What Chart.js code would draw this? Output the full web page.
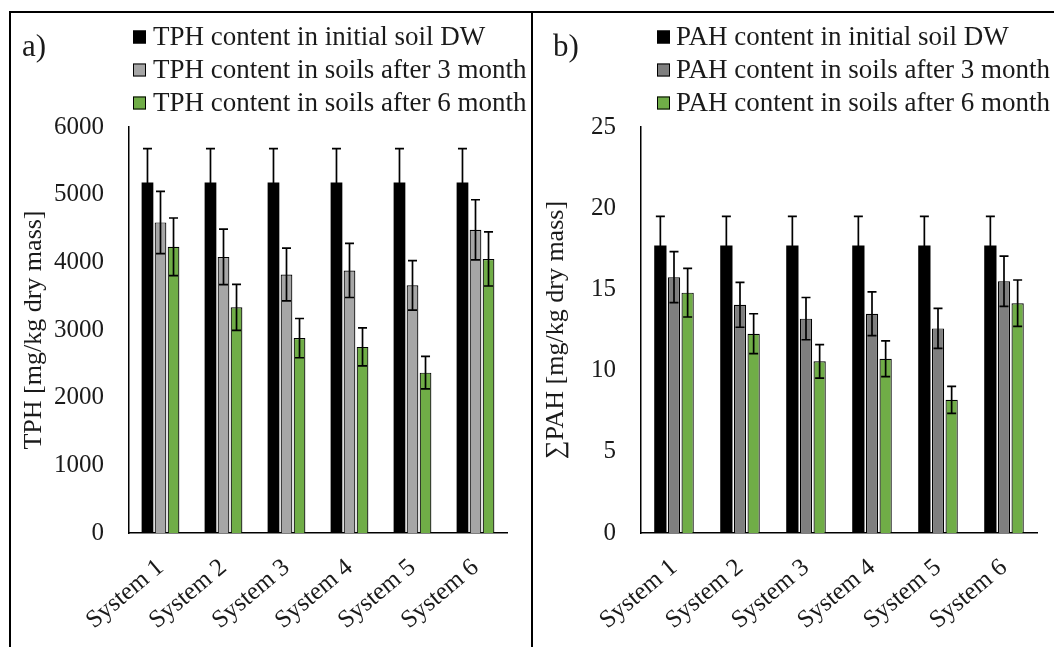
<!DOCTYPE html>
<html>
<head>
<meta charset="utf-8">
<script src="https://cdn.jsdelivr.net/npm/chart.js@4.4.1/dist/chart.umd.min.js"></script>
<style>
  html, body { margin: 0; padding: 0; background: #fff; }
  body { width: 1054px; height: 647px; position: relative; overflow: hidden; }
  #wrapA { position: absolute; left: 0; top: 0; width: 533px; height: 647px; }
  #wrapB { position: absolute; left: 533px; top: 0; width: 521px; height: 647px; }
  .ln { position: absolute; background: #000; }
</style>
</head>
<body>
<div id="wrapA"><canvas id="chartA" width="533" height="647"></canvas></div>
<div id="wrapB"><canvas id="chartB" width="521" height="647"></canvas></div>
<div class="ln" style="left:9px; top:11px; width:2px; height:636px;"></div>
<div class="ln" style="left:9px; top:11px; width:1045px; height:2px;"></div>
<div class="ln" style="left:531px; top:11px; width:2px; height:636px;"></div>
<script>
// ---------- data ----------
const categories = ['System 1', 'System 2', 'System 3', 'System 4', 'System 5', 'System 6'];

const tphLabels = ['TPH content in initial soil DW', 'TPH content in soils after 3 month', 'TPH content in soils after 6 month'];
const tphInitial = [5180, 5180, 5180, 5180, 5180, 5180];
const tphInitialErr = [500, 500, 500, 500, 500, 500];
const tph3 = [4590, 4080, 3820, 3880, 3660, 4480];
const tph3Err = [460, 410, 390, 400, 365, 445];
const tph6 = [4230, 3335, 2880, 2750, 2370, 4050];
const tph6Err = [425, 340, 290, 280, 240, 400];
const tphTicks = [0, 1000, 2000, 3000, 4000, 5000, 6000];

const pahLabels = ['PAH content in initial soil DW', 'PAH content in soils after 3 month', 'PAH content in soils after 6 month'];
const pahInitial = [17.7, 17.7, 17.7, 17.7, 17.7, 17.7];
const pahInitialErr = [1.8, 1.8, 1.8, 1.8, 1.8, 1.8];
const pah3 = [15.75, 14.05, 13.2, 13.5, 12.6, 15.5];
const pah3Err = [1.57, 1.38, 1.3, 1.35, 1.23, 1.55];
const pah6 = [14.8, 12.27, 10.57, 10.73, 8.2, 14.15];
const pah6Err = [1.5, 1.23, 1.03, 1.1, 0.83, 1.43];
const pahTicks = [0, 5, 10, 15, 20, 25];

// ---------- styles ----------
const FONT = "'Liberation Serif', 'DejaVu Serif', serif";
const TEXT = '#1a1a1a';
const black = '#000000';
const grayA = '#a6a6a6';
const grayB = '#7f7f7f';
const green = '#70ad47';

const errorBarPlugin = {
  id: 'errorBars',
  afterDatasetsDraw(chart) {
    const ctx = chart.ctx;
    const yScale = chart.scales.y;
    ctx.save();
    ctx.strokeStyle = '#000';
    ctx.lineWidth = 1.7;
    chart.data.datasets.forEach((ds, i) => {
      const meta = chart.getDatasetMeta(i);
      meta.data.forEach((el, j) => {
        const v = ds.data[j], e = ds.errors[j];
        const x = el.x;
        const yt = yScale.getPixelForValue(v + e);
        const yb = yScale.getPixelForValue(v - e);
        const cap = 4.5;
        ctx.beginPath();
        ctx.moveTo(x, yb); ctx.lineTo(x, yt);
        ctx.moveTo(x - cap, yt); ctx.lineTo(x + cap, yt);
        ctx.moveTo(x - cap, yb); ctx.lineTo(x + cap, yb);
        ctx.stroke();
      });
    });
    ctx.restore();
  }
};

const legendPlugin = {
  id: 'customLegend',
  afterDraw(chart, args, opts) {
    const ctx = chart.ctx;
    ctx.save();
    ctx.font = '27px ' + FONT;
    ctx.textBaseline = 'middle';
    ctx.textAlign = 'left';
    chart.data.datasets.forEach((ds, i) => {
      const y = opts.rows[i];
      ctx.fillStyle = ds.backgroundColor;
      ctx.fillRect(opts.boxX, y - 6.5, 13, 13);
      ctx.strokeStyle = '#000';
      ctx.lineWidth = 1;
      ctx.strokeRect(opts.boxX + 0.5, y - 6, 12, 12);
      ctx.fillStyle = TEXT;
      ctx.fillText(ds.label, opts.textX, y + 1);
    });
    ctx.font = '31px ' + FONT;
    ctx.fillText(opts.panel, opts.panelX, opts.panelY);
    ctx.restore();
  }
};

function makeChart(id, labels, vals, errs, colors, ticks, yTitle, yWidth, titlePad, rightPad, legendOpts) {
  const datasets = vals.map((v, i) => ({
    label: labels[i],
    data: v,
    errors: errs[i],
    backgroundColor: colors[i],
    borderColor: '#000',
    borderWidth: i === 0 ? 0 : 1.2,
    categoryPercentage: 0.62,
    barPercentage: 0.9
  }));
  return new Chart(document.getElementById(id), {
    type: 'bar',
    data: { labels: categories, datasets },
    options: {
      responsive: false,
      animation: false,
      layout: { padding: { left: 0, top: 127, right: rightPad, bottom: 0 } },
      plugins: {
        legend: { display: false },
        tooltip: { enabled: false },
        customLegend: legendOpts
      },
      scales: {
        x: {
          grid: { display: false, drawTicks: false },
          border: { display: true, color: '#000', width: 1.5 },
          ticks: {
            color: TEXT, font: { family: FONT, size: 25 },
            minRotation: 40, maxRotation: 40, padding: 20
          },
          afterFit(s) { s.height = 114; }
        },
        y: {
          min: ticks[0], max: ticks[ticks.length - 1],
          afterBuildTicks(s) { s.ticks = ticks.map(v => ({ value: v })); },
          grid: { display: false, drawTicks: false },
          border: { display: true, color: '#000', width: 1.5 },
          ticks: {
            color: TEXT, font: { family: FONT, size: 25 }, padding: 25,
            callback: (v) => String(v)
          },
          title: {
            display: true, text: yTitle, color: TEXT,
            font: { family: FONT, size: 26 }, padding: { top: titlePad, bottom: 0 }
          },
          afterFit(s) { s.width = yWidth; }
        }
      }
    },
    plugins: [errorBarPlugin, legendPlugin]
  });
}

makeChart('chartA', tphLabels,
  [tphInitial, tph3, tph6], [tphInitialErr, tph3Err, tph6Err],
  [black, grayA, green], tphTicks, 'TPH [mg/kg dry mass]', 129, 19, 26,
  { rows: [37, 70, 103], boxX: 133, textX: 153, panel: 'a)', panelX: 22, panelY: 48 });

makeChart('chartB', pahLabels,
  [pahInitial, pah3, pah6], [pahInitialErr, pah3Err, pah6Err],
  [black, grayB, green], pahTicks, '\u2211PAH [mg/kg dry mass]', 108, 8, 17,
  { rows: [37, 70, 103], boxX: 124, textX: 143, panel: 'b)', panelX: 20, panelY: 48 });
</script>
</body>
</html>
